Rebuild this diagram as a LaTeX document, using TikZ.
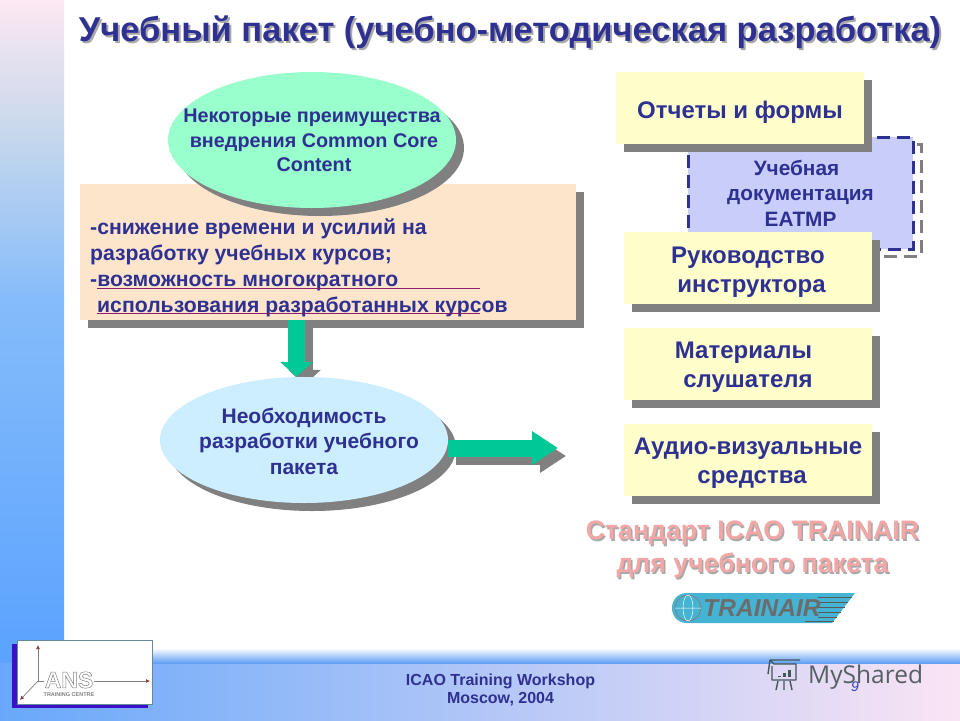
\documentclass[tikz,border=0pt]{standalone}
\usepackage{fontspec}
\setmainfont{Liberation Sans}
\newfontfamily\sharedfont{Open Sans}
\usetikzlibrary{arrows.meta,shapes.geometric,shadows,calc}
\pgfdeclarelayer{top}
\pgfsetlayers{main,top}
\definecolor{ink}{HTML}{2E3192}
\definecolor{shadecol}{HTML}{808080}
\definecolor{softshade}{HTML}{A8A8A8}
\definecolor{peach}{HTML}{FDE5CC}
\definecolor{mint}{HTML}{99FFCC}
\definecolor{sky}{HTML}{CCEEFF}
\definecolor{cream}{HTML}{FFFFCC}
\definecolor{lilac}{HTML}{C9CDF9}
\definecolor{teal}{HTML}{00C896}
\definecolor{stdpink}{HTML}{F2A6A6}
\definecolor{logocyan}{HTML}{45B3D3}
\definecolor{bandpink}{HTML}{FCE8F2}
\definecolor{bandmid}{HTML}{C8D8EC}
\definecolor{bandlow}{HTML}{85BCFA}
\definecolor{bandblue}{HTML}{5CA3FF}
\definecolor{footblue}{HTML}{68A8FA}
\definecolor{footpink}{HTML}{FAE4F4}
\definecolor{footedge}{HTML}{60A0F5}
\definecolor{ulinecol}{HTML}{8C1E6E}
\definecolor{ansblue}{HTML}{3C10C8}
\definecolor{ansedge}{HTML}{648C96}
\definecolor{axisred}{HTML}{8A3A30}
\definecolor{markgrey}{HTML}{46555A}
\definecolor{sharedgrey}{HTML}{555F64}
\definecolor{pageblue}{HTML}{3040C0}
\newcommand{\sz}[2]{\fontsize{#1}{#2}\selectfont}
\newcommand{\pushdown}[1]{\rule{0pt}{#1pt}}
\tikzset{
  x=1pt,y=-1pt,
  shadowed/.style={drop shadow={shadow xshift=8pt,shadow yshift=-8pt,fill=shadecol,opacity=1}},
  ytext/.style={shadowed,rectangle,inner sep=0pt,text=ink,align=center,font=\bfseries\sz{24}{29},fill=cream,minimum width=248pt,minimum height=72pt},
  oval/.style={shadowed,ellipse,inner sep=0pt,minimum width=288pt},
  ovaltext/.style={inner sep=0pt,text=ink,align=center},
  bigarrow/.style={draw=teal,line width=17pt,-{Triangle[length=26pt,width=32pt]}},
  bigshadow/.style={draw=shadecol,line width=17pt,-{Triangle[length=26pt,width=32pt]}},
  uline/.style={draw=ulinecol,line width=1pt},
  axisline/.style={draw=gray,line width=.7pt,-{Latex[length=4pt,width=4pt,color=axisred]}},
}
\begin{document}
\begin{tikzpicture}
\useasboundingbox (0,0) rectangle (960,720);
\fill[white] (0,0) rectangle (960,720);
% left band and footer
\shade[top color=bandpink,bottom color=bandmid] (0,0) rectangle (64,130);
\shade[top color=bandmid,bottom color=bandlow] (0,130) rectangle (64,300);
\shade[top color=bandlow,bottom color=bandblue] (0,300) rectangle (64,650);
\shade[left color=footblue,right color=footpink] (0,660) rectangle (960,720);
\shade[top color=white,bottom color=footedge] (64,648) rectangle (960,663);
\fill[bandblue] (0,648) rectangle (64,663);
% title
\node[font=\bfseries\sz{34.5}{34.5},text=softshade] at (512,34) {Учебный пакет (учебно-методическая разработка)};
\node[font=\bfseries\sz{34.5}{34.5},text=ink] (title) at (510,32) {Учебный пакет (учебно-методическая разработка)};
% peach box
\node[shadowed,rectangle,fill=peach,inner sep=0pt,minimum width=496pt,minimum height=136pt] (peachbox) at (328,252) {};
\node[anchor=north west,inner sep=0pt,align=left,text=ink,font=\bfseries\sz{21.2}{25.7}] (peachtext) at (90,219)
 {-снижение времени и усилий на\\разработку учебных курсов;\\-возможность многократного\\\hspace*{7pt}использования разработанных курсов};
\coordinate (u1a) at (97,288); \coordinate (u1b) at (480,288);
\coordinate (u2a) at (97,313); \coordinate (u2b) at (480,313);
\draw[uline] (u1a) -- (u1b);
\draw[uline] (u2a) -- (u2b);
% green oval
\node[oval,fill=mint,minimum height=136pt] (adv) at (312,140) {};
\node[ovaltext,font=\bfseries\sz{19.8}{24.5}] (advtext) at (312,140.5)
 {Некоторые преимущества\\\hspace*{4pt}внедрения Common Core\\\hspace*{4pt}Content};
% lower oval on the top layer, so the arrow passes beneath it
\begin{pgfonlayer}{top}
\node[oval,fill=sky,minimum height=126pt] (need) at (304,440) {};
\node[ovaltext,font=\bfseries\sz{21}{25.5}] (needtext) at (304,441)
 {Необходимость\\\hspace*{10pt}разработки учебного\\пакета};
\end{pgfonlayer}
% block arrows
\coordinate (dstart) at (296.5,320);
\coordinate (dend) at (dstart |- need.north);
\coordinate (rtip) at (558,448);
\coordinate (rstart) at (need.east |- rtip);
\draw[bigshadow,-{Triangle[length=15pt,width=32pt]}] ([shift={(8,8)}]dstart) -- ([shift={(8,8)}]dend);
\draw[bigarrow,-{Triangle[length=15pt,width=32pt]}] (dstart) -- (dend);
\begin{pgfonlayer}{top}
\draw[bigshadow] ([shift={(8,8)}]rstart) -- ([shift={(8,8)}]rtip);
\draw[bigarrow] (rstart) -- (rtip);
\end{pgfonlayer}
% dashed documentation box
\draw[draw=shadecol,line width=3pt,dash pattern=on 13pt off 7pt] (696,144) rectangle (921,256);
\node[rectangle,fill=lilac,draw=ink,line width=3pt,dash pattern=on 13pt off 7pt,inner sep=0pt,minimum width=225pt,minimum height=112pt,text=ink,align=center,font=\bfseries\sz{20.8}{25.5}] (docs) at (800.5,193)
 {Учебная\hspace*{8pt}\\документация\hspace*{8pt}\\ЕАТМР};
% yellow boxes
\node[ytext] (reports) at (740,108) {\pushdown{25.5}Отчеты и формы};
\node[ytext] (guide) at (748,268) {\pushdown{24.5}Руководство\\\hspace*{7pt}инструктора};
\node[ytext] (materials) at (748,364) {\pushdown{22.5}Материалы\hspace*{9pt}\\слушателя};
\node[ytext] (av) at (748,460) {\pushdown{22.5}Аудио-визуальные\\\hspace*{8pt}средства};
% standard caption
\node[align=center,font=\bfseries\sz{26.7}{33},text=softshade] at (754,551) {Стандарт ICAO TRAINAIR\\для учебного пакета};
\node[align=center,font=\bfseries\sz{26.7}{33},text=stdpink] (std) at (752.5,549.5) {Стандарт ICAO TRAINAIR\\для учебного пакета};
% trainair logo
\fill[logocyan] (687,593) -- (855,593) -- (832,623) -- (687,623) .. controls (667,623) and (667,593) .. (687,593) -- cycle;
\foreach \yy/\xa in {597/852,602/848,607/845,612/841,617/837,621/834}
  \draw[gray!70!black,line width=.9pt] (805,\yy) -- (\xa,\yy);
\draw[gray,line width=.8pt] (688,608) circle[radius=13];
\draw[white,line width=.5pt] (688,608) ellipse[x radius=5,y radius=13] (675,608) -- (701,608);
\fill[logocyan] (706,595) rectangle (818,621);
\node[font=\bfseries\itshape\sz{24.5}{24.5},text=gray!85!black] (trainair) at (762,608) {TRAINAIR};
% ANS logo
\fill[ansblue] (12,644) rectangle (148,708);
\node[rectangle,draw=ansedge,fill=white,inner sep=0pt,minimum width=135pt,minimum height=64pt,line width=.7pt] (ans) at (84.5,672.5) {};
\coordinate (origin) at (38,681); \coordinate (ay) at (38,645); \coordinate (ax) at (150,681); \coordinate (az) at (20,700);
\draw[axisline] (origin) -- (ay);
\draw[axisline] (origin) -- (ax);
\draw[axisline] (origin) -- (az);
\node[fill=white,inner sep=1pt,font=\bfseries\sz{23}{23},text=gray] (anstext) at (69,680) {\special{pdf: code 1 Tr 0.5 w}ANS\special{pdf: code 0 Tr}};
\node[font=\bfseries\sz{5.5}{5.5},text=gray] (anssub) at (69,695) {TRAINING CENTRE};
% footer
\node[align=center,text=ink,font=\bfseries\sz{16}{18.5}] (foot) at (500.5,690) {ICAO Training Workshop\\Moscow, 2004};
% MyShared mark
\draw[markgrey,line width=1.4pt,line join=round] (772,666) -- (772,680) -- (796,680) -- (796,664) -- (774,664) -- (770,660) (770,660) -- (800,660);
\draw[markgrey,line width=1.4pt] (770,660) -- (768,674) (778,681) -- (776,690) (784,681) -- (784,690) (790,681) -- (792,690);
\foreach \bx/\by in {778/676,783/673,788/670}
  \fill[markgrey] (\bx,\by) rectangle ++(3,{677-\by});
\node[anchor=west,inner sep=0pt,font=\sharedfont\sz{24.5}{24.5},text=sharedgrey] (shared) at (808,677) {MyShared};
\node[font=\itshape\sz{14}{14},text=pageblue] (page) at (855,687) {9};
\end{tikzpicture}
\end{document}
